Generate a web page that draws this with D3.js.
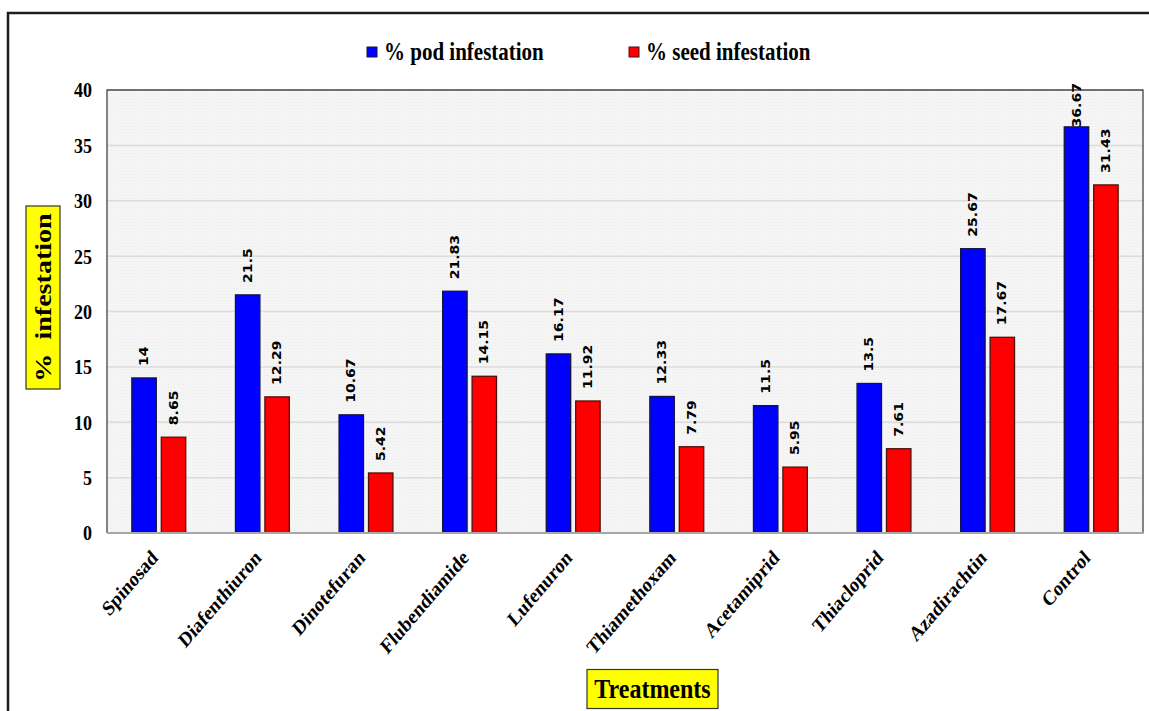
<!DOCTYPE html>
<html>
<head>
<meta charset="utf-8">
<script src="https://cdn.jsdelivr.net/npm/d3@7/dist/d3.min.js"></script>
<style>
  html, body { margin: 0; padding: 0; background: #fff; }
  svg { display: block; }
</style>
</head>
<body>
<svg id="chart" width="1149" height="711"></svg>
<script>
// Treatments and their infestation percentages
const treatments = ["Spinosad", "Diafenthiuron", "Dinotefuran", "Flubendiamide", "Lufenuron",
  "Thiamethoxam", "Acetamiprid", "Thiacloprid", "Azadirachtin", "Control"];
const podInfestation  = [14, 21.5, 10.67, 21.83, 16.17, 12.33, 11.5, 13.5, 25.67, 36.67];
const seedInfestation = [8.65, 12.29, 5.42, 14.15, 11.92, 7.79, 5.95, 7.61, 17.67, 31.43];
const seriesNames = ["% pod infestation", "% seed infestation"];
const yTicks = [0, 5, 10, 15, 20, 25, 30, 35, 40];

const seriesColors = { "% pod infestation": "#0000ff", "% seed infestation": "#ff0000" };
const seriesStroke = { "% pod infestation": "#141440", "% seed infestation": "#501010" };

const rows = treatments.map((t, i) => ({
  treatment: t,
  values: [
    { key: seriesNames[0], value: podInfestation[i] },
    { key: seriesNames[1], value: seedInfestation[i] }
  ]
}));

const svg = d3.select("#chart");
const W = 1149, H = 711;
const plot = { left: 107, right: 1143, top: 90, bottom: 533 };
const tall = 1.17; // glyphs are drawn slightly taller than wide

const serif = "'Liberation Serif', 'Times New Roman', serif";
const sans = "'DejaVu Sans', sans-serif";

// outer frame
svg.append("path")
  .attr("d", `M8,${H + 5} L8,13 L${W + 5},13`)
  .attr("fill", "none").attr("stroke", "#1e1e1e").attr("stroke-width", 2.5);

// plot background with a fine dot texture
const defs = svg.append("defs");
const pat = defs.append("pattern").attr("id", "dots")
  .attr("width", 3).attr("height", 3).attr("patternUnits", "userSpaceOnUse");
pat.append("rect").attr("width", 3).attr("height", 3).attr("fill", "#f5f5f5");
pat.append("rect").attr("width", 1).attr("height", 1).attr("fill", "#ececec");

const x0 = d3.scaleBand().domain(treatments)
  .range([plot.left, plot.right]).paddingInner(0.48).paddingOuter(0.24);
const x1 = d3.scaleBand().domain(seriesNames)
  .range([0, x0.bandwidth()]).paddingInner(0.17);
const y = d3.scaleLinear().domain([0, 40]).range([plot.bottom, plot.top]);

svg.append("rect")
  .attr("x", plot.left).attr("y", plot.top)
  .attr("width", plot.right - plot.left).attr("height", plot.bottom - plot.top)
  .attr("fill", "url(#dots)");

// horizontal gridlines
svg.append("g")
  .selectAll("line").data(yTicks.filter(v => v > 0 && v < 40)).join("line")
  .attr("x1", plot.left).attr("x2", plot.right)
  .attr("y1", d => y(d)).attr("y2", d => y(d))
  .attr("stroke", "#dcdcdc").attr("stroke-width", 1.5);

// plot border (top, left, right)
svg.append("path")
  .attr("d", `M${plot.left},${plot.bottom} L${plot.left},${plot.top} L${plot.right},${plot.top} L${plot.right},${plot.bottom}`)
  .attr("fill", "none").attr("stroke", "#444").attr("stroke-width", 1.3);

// y axis
const yAxis = svg.append("g")
  .attr("transform", `translate(${plot.left},0)`)
  .call(d3.axisLeft(y).tickValues(yTicks).tickSize(0).tickPadding(15));
yAxis.select(".domain").remove();
yAxis.selectAll(".tick text")
  .attr("font-family", serif).attr("font-weight", "bold")
  .attr("font-size", 18).attr("fill", "#000")
  .attr("x", null).attr("dy", null)
  .attr("dominant-baseline", "central")
  .attr("transform", `translate(-15,0) scale(1,${tall})`);

// bars
const groups = svg.append("g").selectAll("g").data(rows).join("g")
  .attr("transform", d => `translate(${x0(d.treatment)},0)`);

groups.selectAll("rect").data(d => d.values).join("rect")
  .attr("x", d => x1(d.key))
  .attr("width", x1.bandwidth())
  .attr("y", d => y(d.value))
  .attr("height", d => y(0) - y(d.value))
  .attr("fill", d => seriesColors[d.key])
  .attr("stroke", d => seriesStroke[d.key])
  .attr("stroke-width", 1.3);

// value labels, rotated, kept inside the frame near the top
groups.selectAll("text.val").data(d => d.values).join("text")
  .attr("class", "val")
  .attr("font-family", sans).attr("font-weight", "bold")
  .attr("font-size", 12).attr("fill", "#000")
  .attr("text-anchor", "start").attr("dominant-baseline", "central")
  .text(d => d.value)
  .each(function (d) {
    const len = this.getComputedTextLength() * tall;
    const cx = x1(d.key) + x1.bandwidth() / 2;
    const cy = Math.max(y(d.value) - 12, plot.top - 7 + len);
    d3.select(this).attr("transform", `translate(${cx},${cy}) scale(1,${tall}) rotate(-90)`);
  });

// x axis line
svg.append("line")
  .attr("x1", plot.left).attr("x2", plot.right + 1)
  .attr("y1", plot.bottom).attr("y2", plot.bottom)
  .attr("stroke", "#a8a8a8").attr("stroke-width", 2);

// category labels
const xAxis = svg.append("g")
  .attr("transform", `translate(0,${plot.bottom})`)
  .call(d3.axisBottom(x0).tickSize(0).tickPadding(0));
xAxis.select(".domain").remove();
xAxis.selectAll("text")
  .attr("font-family", serif).attr("font-weight", "bold")
  .attr("font-size", 18).attr("fill", "#000")
  .attr("text-anchor", "end")
  .attr("dy", 0).attr("y", 0)
  .attr("transform", `translate(0,26) scale(1,${tall}) rotate(-45)`);

// legend
const legendItems = [
  { key: seriesNames[0], x: 367 },
  { key: seriesNames[1], x: 629 }
];
const legend = svg.append("g").selectAll("g").data(legendItems).join("g")
  .attr("transform", d => `translate(${d.x},47)`);
legend.append("rect")
  .attr("width", 10).attr("height", 10)
  .attr("fill", d => seriesColors[d.key])
  .attr("stroke", d => seriesStroke[d.key]).attr("stroke-width", 1);
legend.append("text")
  .attr("transform", `translate(17,12.5) scale(1,${tall})`)
  .attr("font-family", serif).attr("font-weight", "bold")
  .attr("font-size", 21).attr("fill", "#000")
  .text(d => d.key);

// y axis title in a yellow box
const yTitle = svg.append("g").attr("transform", "translate(43,297.5)");
yTitle.append("rect")
  .attr("x", -17).attr("y", -91.5).attr("width", 34).attr("height", 183)
  .attr("fill", "#ffff00").attr("stroke", "#333").attr("stroke-width", 1.2);
yTitle.append("text")
  .attr("transform", `scale(1,${tall}) rotate(-90)`)
  .attr("text-anchor", "middle").attr("dominant-baseline", "central")
  .attr("font-family", serif).attr("font-weight", "bold")
  .attr("font-size", 24).attr("fill", "#000")
  .attr("xml:space", "preserve")
  .style("white-space", "pre")
  .text("%  infestation");

// x axis title in a yellow box
const xTitle = svg.append("g").attr("transform", "translate(652.5,689)");
xTitle.append("rect")
  .attr("x", -65.5).attr("y", -19.5).attr("width", 131).attr("height", 39)
  .attr("fill", "#ffff00").attr("stroke", "#333").attr("stroke-width", 1.2);
xTitle.append("text")
  .attr("transform", `scale(1,${tall})`)
  .attr("text-anchor", "middle").attr("dominant-baseline", "central")
  .attr("font-family", serif).attr("font-weight", "bold")
  .attr("font-size", 24).attr("fill", "#000")
  .text("Treatments");
</script>
</body>
</html>
